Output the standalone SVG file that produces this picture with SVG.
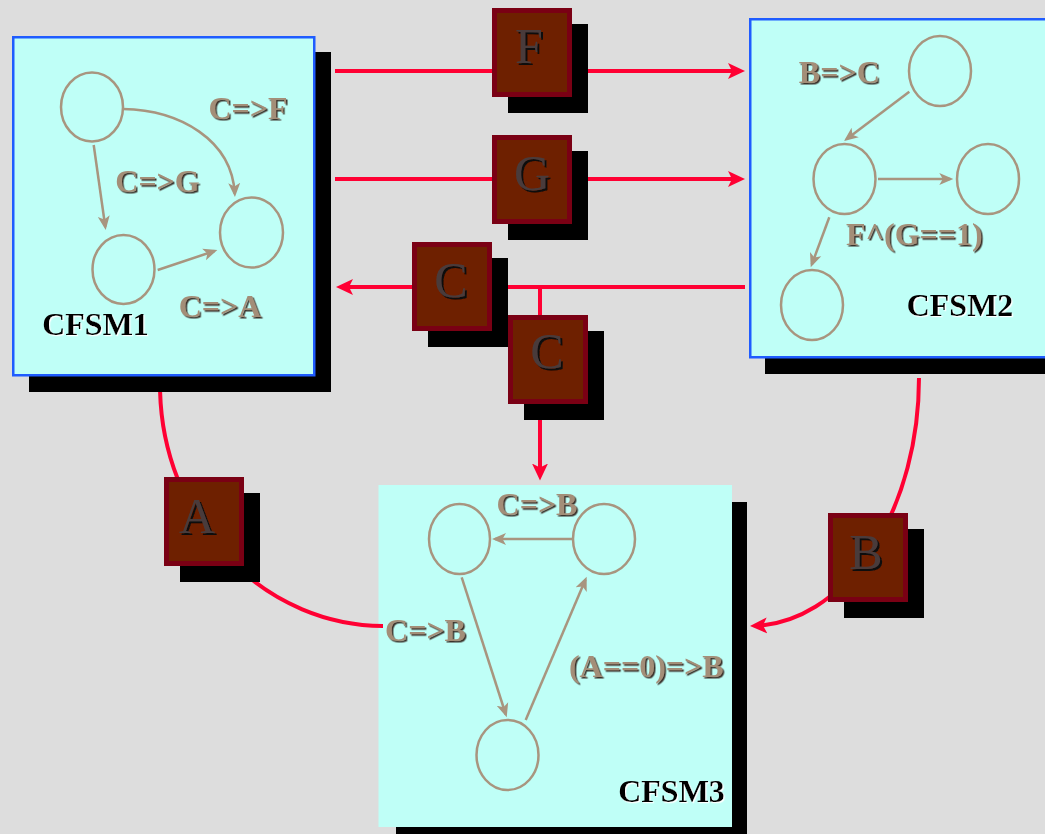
<svg xmlns="http://www.w3.org/2000/svg" width="1045" height="834" viewBox="0 0 1045 834">
<defs>
<style>
.bg{fill:#dddddd}
.fsm{fill:#bffff7}
.fsmb{stroke:#1f5cff;stroke-width:2.5}
.sh{fill:#000}
.st{fill:none;stroke:#a8957f;stroke-width:2.5}
.tr{fill:none;stroke:#a8957f;stroke-width:2.5}
.lbl{font-family:"Liberation Serif","Times New Roman",serif;font-weight:bold;font-size:32px;fill:#a38e78;text-anchor:middle}
.name{font-family:"Liberation Serif","Times New Roman",serif;font-weight:bold;font-size:32px;fill:#000;text-anchor:middle}
.sig{fill:none;stroke:#ff0033;stroke-width:4}
.box{fill:#6e2000;stroke:#7a0014;stroke-width:5}
.let{font-family:"Liberation Serif","Times New Roman",serif;font-size:50px;fill:#4a3b3b;text-anchor:middle}
</style>
<filter id="tsh" x="-10%" y="-20%" width="130%" height="150%">
<feDropShadow dx="1.5" dy="1.5" stdDeviation="0.3" flood-color="#3a302c"/>
</filter>
<filter id="lsh" x="-10%" y="-20%" width="130%" height="150%">
<feDropShadow dx="2" dy="2" stdDeviation="0.3" flood-color="#100808"/>
</filter>
<filter id="wsh" x="-10%" y="-20%" width="130%" height="150%">
<feDropShadow dx="1.2" dy="1.2" stdDeviation="0.3" flood-color="#ffffff"/>
</filter>
<marker id="ta" markerUnits="userSpaceOnUse" markerWidth="16" markerHeight="14" refX="11" refY="6.5" orient="auto">
<path d="M0,0.5 L14,6.5 L0,12.5 L3.5,6.5 Z" fill="#a8957f"/>
</marker>
<marker id="ra" markerUnits="userSpaceOnUse" markerWidth="20" markerHeight="20" refX="12" refY="9" orient="auto">
<path d="M0,1 L17,9 L0,17 L4,9 Z" fill="#ff0033"/>
</marker>
</defs>
<rect class="bg" x="0" y="0" width="1045" height="834"/>

<g id="cfsm1">
<rect class="sh" x="29" y="52" width="302" height="340"/>
<rect class="fsm fsmb" x="13.25" y="37.25" width="301" height="338"/>
<ellipse id="s1a" class="st" cx="92" cy="107" rx="31" ry="34.5"/>
<ellipse id="s1b" class="st" cx="123.5" cy="269.5" rx="31" ry="34.5"/>
<ellipse id="s1c" class="st" cx="251.5" cy="232.5" rx="31.5" ry="35"/>
<text class="name" x="95.5" y="335" filter="url(#wsh)">CFSM1</text>
</g>

<g id="cfsm2">
<rect class="sh" x="765" y="34" width="300" height="340"/>
<rect class="fsm fsmb" x="750.25" y="19.25" width="320" height="338"/>
<ellipse id="s2a" class="st" cx="940" cy="71" rx="31" ry="35"/>
<ellipse id="s2b" class="st" cx="844.5" cy="179" rx="31" ry="35"/>
<ellipse id="s2c" class="st" cx="988" cy="179" rx="31" ry="35"/>
<ellipse id="s2d" class="st" cx="812" cy="305" rx="31" ry="35"/>
<text class="name" x="960" y="316" filter="url(#wsh)">CFSM2</text>
</g>

<g id="cfsm3">
<rect class="sh" x="396" y="502" width="351" height="340"/>
<rect class="fsm" x="378.5" y="485" width="353.5" height="342"/>
<ellipse id="s3a" class="st" cx="459.5" cy="539" rx="30.5" ry="35"/>
<ellipse id="s3b" class="st" cx="604" cy="539" rx="31" ry="35"/>
<ellipse id="s3c" class="st" cx="507.5" cy="755" rx="31" ry="35"/>
<text class="name" x="671.5" y="802" filter="url(#wsh)">CFSM3</text>
</g>

<g id="transitions">
<path class="tr" marker-end="url(#ta)" d="M93.7,145 L105.3,227"/>
<path class="tr" marker-end="url(#ta)" d="M123,109 C180,110 232,140 234.8,194"/>
<path class="tr" marker-end="url(#ta)" d="M157.7,270 L214.5,251"/>
<path class="tr" marker-end="url(#ta)" d="M909.3,91.7 L846.4,139.2"/>
<path class="tr" marker-end="url(#ta)" d="M878,179 L950.3,179"/>
<path class="tr" marker-end="url(#ta)" d="M829.3,217.3 L811.8,264.5"/>
<path class="tr" marker-end="url(#ta)" d="M572,539 L495,539"/>
<path class="tr" marker-end="url(#ta)" d="M461.7,577.3 L505.8,714.5"/>
<path class="tr" marker-end="url(#ta)" d="M525.7,720 L585.5,579.5"/>
<g filter="url(#tsh)">
<text class="lbl" x="248" y="119">C=&gt;F</text>
<text class="lbl" x="157.5" y="192">C=&gt;G</text>
<text class="lbl" x="220" y="317">C=&gt;A</text>
<text class="lbl" x="839.3" y="83">B=&gt;C</text>
<text class="lbl" x="914.3" y="245">F^(G==1)</text>
<text class="lbl" x="537" y="515">C=&gt;B</text>
<text class="lbl" x="425.5" y="641">C=&gt;B</text>
<text class="lbl" x="646.3" y="677">(A==0)=&gt;B</text>
</g>
</g>

<g id="connectors">
<path class="sig" marker-end="url(#ra)" d="M335,71 H740"/>
<path class="sig" marker-end="url(#ra)" d="M335,179 H740"/>
<path class="sig" marker-end="url(#ra)" d="M745,287 H341"/>
<path class="sig" marker-end="url(#ra)" d="M540,287 V475.5"/>
<path class="sig" d="M160.1,392 A224,241 0 0 0 383,626"/>
<path class="sig" marker-end="url(#ra)" d="M919,378 A169,248 0 0 1 755,625.9"/>
</g>

<g id="sigF">
<rect class="sh" x="508" y="24" width="80" height="89"/>
<rect class="box" x="494.5" y="10.5" width="75" height="84"/>
<text class="let" x="529" y="63" filter="url(#lsh)">F</text>
</g>
<g id="sigG">
<rect class="sh" x="508" y="151" width="80" height="89"/>
<rect class="box" x="494.5" y="137.5" width="75" height="84"/>
<text class="let" x="532" y="190" filter="url(#lsh)">G</text>
</g>
<g id="sigC1">
<rect class="sh" x="428" y="258" width="80" height="89"/>
<rect class="box" x="414.5" y="244.5" width="75" height="84"/>
<text class="let" x="451" y="297" filter="url(#lsh)">C</text>
</g>
<g id="sigC2">
<rect class="sh" x="524" y="331" width="80" height="89"/>
<rect class="box" x="510.5" y="317.5" width="75" height="84"/>
<text class="let" x="547" y="368" filter="url(#lsh)">C</text>
</g>
<g id="sigA">
<rect class="sh" x="180" y="493" width="80" height="89"/>
<rect class="box" x="166.5" y="479.5" width="75" height="84"/>
<text class="let" x="197" y="533" filter="url(#lsh)">A</text>
</g>
<g id="sigB">
<rect class="sh" x="844" y="529" width="80" height="89"/>
<rect class="box" x="830.5" y="515.5" width="75" height="84"/>
<text class="let" x="866" y="569" filter="url(#lsh)">B</text>
</g>
</svg>
